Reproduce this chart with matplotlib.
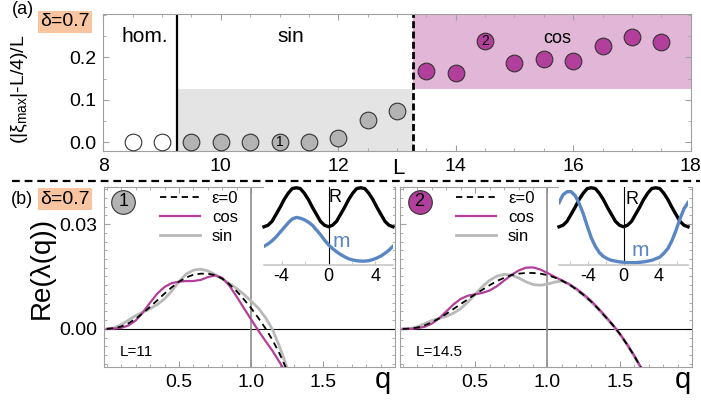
import numpy as np
import matplotlib
matplotlib.use("Agg")
import matplotlib.pyplot as plt
from matplotlib.lines import Line2D
from matplotlib.ticker import MultipleLocator

plt.rcParams["font.family"] = ["Liberation Sans", "DejaVu Sans"]
plt.rcParams["mathtext.default"] = "regular"

W, H = 701, 401

# ---------------------------------------------------------
# (a) phase diagram: asymmetry of the pattern vs box length
# ---------------------------------------------------------
L_hom = [8.5, 9.0]
xi_hom = [0.0, 0.0]

L_sin = [9.5, 10.0, 10.5, 11.0, 11.5, 12.0, 12.5, 13.0]
xi_sin = [0.0, 0.0, 0.0, 0.0, 0.0, 0.009, 0.052, 0.074]

L_cos = [13.5, 14.0, 14.5, 15.0, 15.5, 16.0, 16.5, 17.0, 17.5]
xi_cos = [0.168, 0.162, 0.239, 0.186, 0.196, 0.191, 0.227, 0.248, 0.237]

L_hom_sin = 9.255   # hom. -> sin transition
L_sin_cos = 13.27   # sin -> cos transition
xi_split = 0.125    # level separating sin / cos regions

# ---------------------------------------------------------
# (b) growth rates Re(lambda(q)) for the two marked states
# ---------------------------------------------------------
q_1 = np.linspace(0.0, 1.25, 26)
eps0_1 = [0, 0.0002, 0.0007, 0.0016, 0.0029, 0.0045, 0.0063, 0.0082, 0.0101,
          0.0119, 0.0135, 0.0147, 0.0155, 0.0158, 0.0158, 0.0154, 0.0144,
          0.0128, 0.0108, 0.0085, 0.0060, 0.0032, 0.0002, -0.0032, -0.0072,
          -0.0118]
cos_1 = [0, 0.0001, 0.0003, 0.0010, 0.0024, 0.0047, 0.0075, 0.0101, 0.0120,
         0.0131, 0.0135, 0.0137, 0.0137, 0.0140, 0.0148, 0.0153, 0.0146,
         0.0124, 0.0093, 0.0060, 0.0028, -0.0004, -0.0034, -0.0063, -0.0096,
         -0.0130]
sin_1 = [0, 0.0003, 0.0012, 0.0025, 0.0038, 0.0048, 0.0058, 0.0070, 0.0086,
         0.0108, 0.0135, 0.0157, 0.0168, 0.0171, 0.0166, 0.0156, 0.0143,
         0.0130, 0.0116, 0.0099, 0.0080, 0.0060, 0.0033, -0.0002, -0.0052,
         -0.0110]

q_2 = np.linspace(0.0, 1.65, 34)
eps0_2 = [0, 0.0001, 0.0004, 0.0010, 0.0019, 0.0030, 0.0043, 0.0057, 0.0071,
          0.0085, 0.0099, 0.0112, 0.0125, 0.0137, 0.0146, 0.0154, 0.0158,
          0.0160, 0.0160, 0.0158, 0.0154, 0.0147, 0.0138, 0.0127, 0.0113,
          0.0097, 0.0079, 0.0058, 0.0035, 0.0012, -0.0014, -0.0044, -0.0077,
          -0.0113]
cos_2 = [0, 0.0000, 0.0002, 0.0006, 0.0015, 0.0030, 0.0050, 0.0070, 0.0086,
         0.0095, 0.0099, 0.0103, 0.0110, 0.0122, 0.0138, 0.0154, 0.0167,
         0.0175, 0.0176, 0.0170, 0.0160, 0.0149, 0.0139, 0.0128, 0.0115,
         0.0099, 0.0081, 0.0060, 0.0037, 0.0013, -0.0013, -0.0043, -0.0076,
         -0.0112]
sin_2 = [0, 0.0001, 0.0006, 0.0015, 0.0024, 0.0030, 0.0036, 0.0045, 0.0058,
         0.0077, 0.0099, 0.0121, 0.0139, 0.0151, 0.0156, 0.0154, 0.0146,
         0.0135, 0.0127, 0.0125, 0.0128, 0.0134, 0.0137, 0.0128, 0.0113,
         0.0096, 0.0078, 0.0057, 0.0034, 0.0011, -0.0015, -0.0045, -0.0078,
         -0.0115]

# inset profiles R(x), m(x) sampled on 33 points across [-L/2, L/2]
r_profile = [0.49, 0.51, 0.56, 0.65, 0.74, 0.84, 0.92, 0.98, 0.99, 0.98, 0.92,
             0.84, 0.74, 0.65, 0.56, 0.51, 0.49, 0.51, 0.56, 0.65, 0.74, 0.84,
             0.92, 0.98, 0.99, 0.98, 0.92, 0.84, 0.74, 0.65, 0.56, 0.51, 0.49]
m_profile_1 = [0.24, 0.27, 0.31, 0.36, 0.42, 0.48, 0.54, 0.59, 0.61, 0.60,
               0.58, 0.55, 0.51, 0.45, 0.39, 0.32, 0.26, 0.21, 0.17, 0.135,
               0.105, 0.08, 0.065, 0.055, 0.05, 0.05, 0.055, 0.07, 0.09, 0.115,
               0.15, 0.19, 0.24]
m_profile_2 = [0.80, 0.90, 0.94, 0.94, 0.89, 0.79, 0.66, 0.50, 0.35, 0.24,
               0.16, 0.11, 0.08, 0.06, 0.05, 0.04, 0.035, 0.03, 0.03, 0.03,
               0.035, 0.04, 0.05, 0.06, 0.08, 0.10, 0.15, 0.21, 0.31, 0.44,
               0.59, 0.72, 0.80]

L_1, L_2 = 11, 14.5

MAGENTA = "#b23f9b"
PINK = "#e2b6d6"
GREY_PT = "#b3b3b3"
GREY_BG = "#e4e4e4"
GREY_LN = "#b9b9b9"
BLUE = "#5a86c4"
ORANGE = "#f9c4a0"
FRAME = "#a0a0a0"


def box(left, top, right, bottom):
    return [left / W, 1 - bottom / H, (right - left) / W, (bottom - top) / H]


def frame_style(ax):
    for s in ax.spines.values():
        s.set_color(FRAME)
        s.set_linewidth(0.8)
    ax.tick_params(which="both", direction="in", top=True, right=True,
                   color=FRAME, labelsize=14, pad=5)
    ax.tick_params(which="major", length=4)
    ax.tick_params(which="minor", length=2.5)


fig = plt.figure(figsize=(W / 100, H / 100), dpi=100)

# ---------------- panel (a) ----------------
ax = fig.add_axes(box(103.3, 14, 690.7, 151))
ax.set_xlim(8, 18)
ax.set_ylim(-0.0205, 0.302)
frame_style(ax)
ax.xaxis.set_major_locator(MultipleLocator(2))
ax.xaxis.set_minor_locator(MultipleLocator(0.5))
ax.set_yticks([0.0, 0.1, 0.2])
ax.set_yticklabels(["0.0", "0.1", "0.2"])
ax.yaxis.set_minor_locator(MultipleLocator(0.05))

ax.fill_between([L_hom_sin, L_sin_cos], -0.0205, xi_split, color=GREY_BG, lw=0)
ax.fill_between([L_sin_cos, 18], xi_split, 0.302, color=PINK, lw=0)
ax.axvline(L_hom_sin, color="k", lw=1.6)
ax.axvline(L_sin_cos, color="k", lw=2, ls=(0, (2.5, 1.2)))

mk = dict(ls="none", marker="o", ms=12, mec="#333333", mew=0.8, zorder=5)
ax.plot(L_hom, xi_hom, mfc="white", **mk)
ax.plot(L_sin, xi_sin, mfc=GREY_PT, **mk)
ax.plot(L_cos, xi_cos, mfc=MAGENTA, **mk)
ax.text(L_sin[3], xi_sin[3], "1", ha="center", va="center", fontsize=10, zorder=6)
ax.text(L_cos[2], xi_cos[2], "2", ha="center", va="center", fontsize=10, zorder=6)

ax.text(8.7, 0.25, "hom.", ha="center", va="center", fontsize=15)
ax.text(11.2, 0.25, "sin", ha="center", va="center", fontsize=15)
ax.text(15.72, 0.245, "cos", ha="center", va="center", fontsize=13)
ax.text(13.03, -0.062, "L", ha="center", va="center", fontsize=16)
ax.set_ylabel("(|ξ$_{max}$|-L/4)/L", fontsize=14)
ax.yaxis.set_label_coords(-0.125, 0.45)

fig.text(23 / W, 1 - 10 / H, "(a)", ha="center", va="center", fontsize=13)
fig.text(65 / W, 1 - 22 / H, "δ=0.7", ha="center", va="center", fontsize=14,
         bbox=dict(boxstyle="square,pad=0.12", fc=ORANGE, ec="none"))

# dashed separator between the two rows
fig.add_artist(Line2D([12 / W, 700 / W], [1 - 181 / H] * 2, color="k", lw=1.6,
                      ls=(0, (3.5, 2.2))))

# ---------------- panel (b) ----------------
fig.text(22 / W, 1 - 199 / H, "(b)", ha="center", va="center", fontsize=13)
fig.text(65 / W, 1 - 199 / H, "δ=0.7", ha="center", va="center", fontsize=14,
         bbox=dict(boxstyle="square,pad=0.12", fc=ORANGE, ec="none"))

panels = [
    dict(pos=box(104, 187, 395, 367), q=q_1, e0=eps0_1, cs=cos_1, sn=sin_1,
         badge_c=GREY_PT, badge="1", ltxt="L=11", qx=0.959,
         ipos=box(264, 187, 393, 265), Lbox=L_1, m=m_profile_1,
         r_at=(0.56, 0.86), m_at=(1.13, 0.30)),
    dict(pos=box(400, 187, 692, 367), q=q_2, e0=eps0_2, cs=cos_2, sn=sin_2,
         badge_c=MAGENTA, badge="2", ltxt="L=14.5", qx=0.969,
         ipos=box(559, 187, 688, 265), Lbox=L_2, m=m_profile_2,
         r_at=(0.92, 0.84), m_at=(1.85, 0.18)),
]

for i, p in enumerate(panels):
    ax = fig.add_axes(p["pos"])
    ax.set_xlim(-0.02, 2.0)
    ax.set_ylim(-0.0109, 0.0406)
    frame_style(ax)
    ax.set_xticks([0.5, 1.0, 1.5])
    ax.set_xticklabels(["0.5", "1.0", "1.5"])
    ax.xaxis.set_minor_locator(MultipleLocator(0.1))
    ax.set_yticks([0.0, 0.03])
    ax.yaxis.set_minor_locator(MultipleLocator(0.0025))
    if i == 0:
        ax.set_yticklabels(["0.00", "0.03"])
        ax.set_ylabel("Re(λ(q))", fontsize=20)
        ax.yaxis.set_label_coords(-0.168, 0.55)
    else:
        ax.set_yticklabels([])

    ax.axhline(0, color="k", lw=0.8)
    ax.axvline(1.0, color="#8c8c8c", lw=1.2)
    ax.plot(p["q"], p["sn"], color=GREY_LN, lw=2, label="sin", zorder=3)
    ax.plot(p["q"], p["cs"], color=MAGENTA, lw=1.6, label="cos", zorder=3)
    ax.plot(p["q"], p["e0"], color="k", lw=1.3, ls=(0, (3.5, 2.5)), label="ε=0",
            zorder=4)

    h, lab = ax.get_legend_handles_labels()
    ax.legend(h[::-1], lab[::-1], loc="upper left", bbox_to_anchor=(0.17, 1.015),
              frameon=False, fontsize=12, handlelength=2.4, handletextpad=0.7,
              labelspacing=0.25, borderaxespad=0)

    ax.plot([0.115], [0.0364], ls="none", marker="o", ms=17, mfc=p["badge_c"],
            mec="#333333", mew=0.8, zorder=6)
    ax.text(0.115, 0.0364, p["badge"], ha="center", va="center", fontsize=13,
            zorder=7)
    ax.text(0.09, -0.0066, p["ltxt"], ha="left", va="center", fontsize=11)
    ax.text(p["qx"], -0.075, "q", transform=ax.transAxes, ha="center",
            va="center", fontsize=21)

    # inset with R(x) and m(x) profiles
    ins = fig.add_axes(p["ipos"])
    Lbox = p["Lbox"]
    x_prof = np.linspace(-Lbox / 2, Lbox / 2, 33)
    ins.set_xlim(-Lbox / 2, Lbox / 2)
    ins.set_ylim(0, 1)
    for s in ["top", "right", "left"]:
        ins.spines[s].set_visible(False)
    ins.spines["bottom"].set_color("#c8c8c8")
    ins.spines["bottom"].set_linewidth(1.2)
    ins.set_yticks([])
    ins.set_xticks([-4, 0, 4])
    ins.set_xticklabels(["-4", "0", "4"])
    ins.xaxis.set_minor_locator(MultipleLocator(2))
    ins.tick_params(which="both", direction="in", color="#c8c8c8", labelsize=13,
                    pad=2, length=3)
    ins.axvline(0, color="k", lw=0.8)
    ins.plot(x_prof, r_profile, color="k", lw=2.4, clip_on=False)
    ins.plot(x_prof, p["m"], color=BLUE, lw=2.4)
    ins.text(*p["r_at"], "R", fontsize=13, ha="center", va="center")
    ins.text(*p["m_at"], "m", fontsize=15, color=BLUE, ha="center", va="center")

fig.savefig("out.png", dpi=100)
